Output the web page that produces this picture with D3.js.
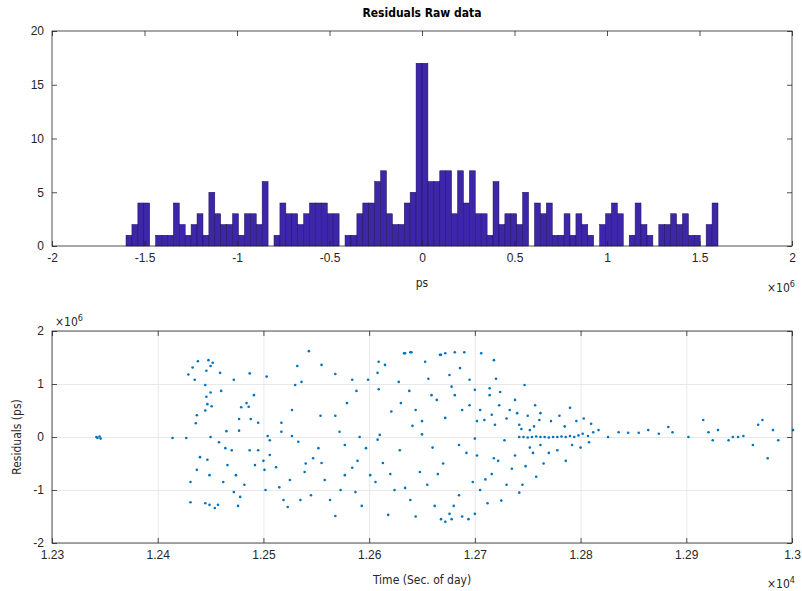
<!DOCTYPE html>
<html>
<head>
<meta charset="utf-8">
<script src="https://cdn.jsdelivr.net/npm/d3@7"></script>
<style>
  body { margin: 0; background: #fff; }
  svg { font-family: "Liberation Sans Narrow", "DejaVu Sans Condensed", "Liberation Sans", sans-serif; }
</style>
</head>
<body>
<svg id="chart" width="802" height="591"></svg>
<script>
// histogram of residuals: 100 bins between binMin and binMax (ps)
const binMin = -1.6e6;
const binMax = 1.6e6;
const histCounts = [
  1, 2, 4, 4, 0, 1, 1, 1, 4, 2,
  1, 2, 3, 1, 5, 3, 2, 2, 3, 1,
  3, 3, 2, 6, 0, 1, 4, 3, 3, 2,
  3, 4, 4, 4, 3, 3, 0, 1, 1, 3,
  4, 4, 6, 7, 3, 2, 2, 4, 5, 17,
  17, 6, 6, 7, 7, 3, 7, 4, 7, 3,
  3, 1, 6, 2, 3, 3, 2, 5, 0, 4,
  3, 4, 1, 1, 3, 1, 3, 2, 1, 0,
  2, 3, 4, 3, 0, 1, 4, 2, 1, 0,
  2, 2, 3, 2, 3, 1, 1, 0, 2, 4
];
const histXTicks = [-2e6, -1.5e6, -1e6, -0.5e6, 0, 0.5e6, 1e6, 1.5e6, 2e6];
const histYTicks = [0, 5, 10, 15, 20];

// residuals vs time of day: [seconds of day, residual in ps]
const residPoints = [
  [12342, 0.0e6], [12343, -0.02e6], [12345, 0.01e6], [12346, -0.03e6],
  [12414, -0.02e6], [12427, -0.02e6],
  [12429, 1.18e6], [12433, 1.31e6], [12438, 1.43e6], [12435, 1.08e6], [12448, 1.45e6],
  [12452, 1.40e6], [12450, 1.34e6], [12446, 1.25e6], [12459, 1.21e6], [12445, 0.98e6],
  [12450, 0.84e6], [12446, 0.76e6], [12447, 0.62e6], [12451, 0.58e6], [12445, 0.50e6],
  [12460, 0.87e6], [12437, 0.41e6], [12436, 0.26e6], [12450, 0.0e6], [12465, 0.11e6],
  [12472, 1.08e6], [12477, 0.12e6], [12477, 0.34e6], [12479, 0.56e6], [12484, 0.64e6],
  [12486, 0.57e6], [12487, 1.2e6], [12491, 0.79e6], [12488, 0.34e6], [12495, 0.27e6],
  [12503, 1.14e6], [12504, 0.02e6], [12517, 0.27e6], [12517, 0.10e6], [12527, 0.02e6],
  [12527, 0.51e6], [12530, 0.98e6], [12536, 1.04e6], [12532, 1.34e6], [12543, 1.62e6],
  [12555, 1.36e6], [12554, 0.40e6], [12568, 0.40e6], [12568, 1.19e6], [12572, 0.1e6],
  [12579, 0.64e6], [12584, 1.08e6], [12588, 0.87e6], [12591, 0.0e6], [12599, 1.08e6],
  [12608, 1.21e6], [12609, 1.42e6], [12609, 0.9e6], [12610, 0.04e6], [12615, 1.36e6],
  [12621, 0.48e6], [12628, 1.04e6], [12630, 0.64e6], [12633, 1.58e6], [12640, 1.6e6],
  [12638, 0.87e6], [12644, 0.51e6], [12641, 0.21e6],
  [12431, -0.85e6], [12431, -1.23e6], [12437, -0.62e6], [12445, -1.25e6], [12449, -1.28e6],
  [12454, -1.34e6], [12440, -0.38e6], [12447, -0.43e6], [12449, -0.72e6], [12457, -1.28e6],
  [12462, -0.85e6], [12464, -0.21e6], [12466, -0.53e6], [12470, -0.25e6], [12472, -1.04e6],
  [12474, -0.72e6], [12478, -1.13e6], [12487, -0.25e6], [12492, -0.53e6], [12495, -0.25e6],
  [12501, -0.62e6], [12502, -1.0e6], [12506, -0.06e6], [12506, -0.34e6], [12512, -0.57e6],
  [12519, -1.19e6], [12523, -1.32e6], [12525, -0.81e6], [12533, -0.09e6], [12535, -1.19e6],
  [12539, -0.66e6], [12547, -0.40e6], [12552, -0.21e6], [12555, -0.49e6], [12558, -0.81e6],
  [12563, -1.19e6], [12568, -1.49e6], [12577, -0.72e6], [12584, -0.58e6], [12587, -1.04e6],
  [12589, -0.45e6], [12597, -0.21e6], [12601, -0.72e6], [12606, -0.85e6], [12613, -0.49e6],
  [12618, -1.47e6], [12624, -1.0e6], [12629, -0.25e6], [12634, -0.96e6], [12639, -1.19e6],
  [12648, -0.66e6],
  [12476, -1.3e6], [12482, -0.9e6], [12515, -0.95e6], [12545, -1.1e6], [12573, -1.0e6],
  [12593, -1.3e6], [12620, -0.7e6], [12644, -1.5e6], [12608, -0.05e6], [12577, -0.15e6],
  [12540, -0.5e6], [12500, -0.45e6], [12458, -0.1e6],
  [12653, 1.42e6], [12659, 0.79e6], [12667, 1.55e6], [12672, 0.36e6], [12676, 1.17e6],
  [12681, 0.79e6], [12688, 0.51e6], [12695, 1.08e6], [12700, 0.89e6], [12705, 0.51e6],
  [12709, 0.32e6], [12714, 0.79e6], [12719, 0.23e6], [12723, 0.60e6], [12728, -0.06e6],
  [12733, 0.51e6], [12738, 0.70e6], [12742, 0.23e6], [12747, 0.98e6], [12752, 0.13e6],
  [12757, 0.60e6], [12761, 0.32e6], [12634, 1.58e6], [12639, 1.6e6], [12681, 1.6e6],
  [12668, 1.55e6], [12672, 1.58e6], [12690, 1.6e6], [12706, 1.58e6], [12718, 1.45e6],
  [12714, 0.92e6], [12720, 1.1e6], [12724, 0.85e6], [12716, 0.42e6], [12702, 0.3e6],
  [12695, 0.6e6], [12686, 1.3e6], [12678, 0.95e6], [12664, 0.7e6], [12656, 1.1e6],
  [12650, 0.3e6], [12730, 0.35e6], [12740, 0.45e6], [12744, 0.15e6], [12750, 0.4e6],
  [12756, 0.2e6], [12762, 0.45e6], [12772, 0.3e6], [12780, 0.4e6], [12785, 0.2e6],
  [12790, 0.55e6], [12796, 0.3e6], [12803, 0.35e6], [12810, 0.25e6],
  [12655, -0.9e6], [12662, -1.3e6], [12670, -0.5e6], [12678, -1.55e6], [12685, -1.1e6],
  [12692, -0.3e6], [12700, -1.45e6], [12710, -0.8e6], [12718, -0.4e6], [12725, -1.2e6],
  [12735, -0.6e6], [12745, -0.9e6], [12755, -0.3e6], [12765, -0.5e6],
  [12668, -1.55e6], [12672, -1.6e6], [12676, -1.45e6], [12680, -1.3e6], [12688, -1.5e6],
  [12694, -1.55e6], [12698, -0.85e6], [12705, -1.0e6], [12712, -1.25e6], [12716, -0.7e6],
  [12722, -0.45e6], [12730, -0.9e6], [12738, -0.35e6], [12742, -1.05e6], [12748, -0.55e6],
  [12752, -0.2e6], [12758, -0.75e6], [12762, -0.15e6], [12770, -0.3e6], [12778, -0.25e6],
  [12786, -0.45e6], [12792, -0.15e6], [12800, -0.2e6], [12808, -0.1e6], [12660, -0.2e6],
  [12665, -0.7e6], [12685, -0.15e6], [12702, -0.35e6],
  [12650, 0.05e6], [12700, -0.03e6],
  [12742, 0.0e6], [12746, 0.0e6], [12750, -0.01e6], [12754, 0.0e6], [12758, 0.01e6],
  [12762, 0.0e6], [12766, 0.0e6], [12770, -0.01e6], [12774, 0.0e6], [12778, 0.0e6],
  [12782, 0.01e6], [12786, 0.0e6], [12790, 0.02e6], [12794, 0.0e6], [12798, 0.03e6],
  [12802, 0.06e6], [12807, 0.02e6], [12812, 0.09e6], [12817, 0.13e6],
  [12826, 0.0e6], [12836, 0.09e6], [12845, 0.08e6], [12855, 0.08e6], [12864, 0.13e6],
  [12874, 0.06e6], [12883, 0.19e6], [12887, 0.09e6], [12902, 0.0e6], [12916, 0.32e6],
  [12921, 0.09e6], [12925, -0.06e6], [12930, 0.13e6], [12940, -0.06e6], [12944, 0.0e6],
  [12949, 0.0e6], [12954, 0.02e6], [12963, -0.15e6], [12968, 0.23e6], [12972, 0.32e6],
  [12982, 0.13e6], [12987, -0.06e6], [13001, 0.13e6], [13015, 0.23e6], [12977, -0.40e6]
];
const timeTicks = [12300, 12400, 12500, 12600, 12700, 12800, 12900, 13000];
const residTicks = [-2e6, -1e6, 0, 1e6, 2e6];

const svg = d3.select('#chart');
const axisColor = '#262626';

function drawBox(g, x0, x1, y0, y1) {
  g.append('rect')
    .attr('x', x0).attr('y', y0)
    .attr('width', x1 - x0).attr('height', y1 - y0)
    .attr('fill', 'none')
    .attr('stroke', axisColor)
    .attr('stroke-width', 0.8);
}

function styleAxis(sel) {
  sel.select('.domain').remove();
  sel.selectAll('line').attr('stroke', axisColor).attr('stroke-width', 0.8);
  sel.selectAll('text').attr('fill', axisColor).style('font-size', '12px');
}

// ---------- histogram ----------
const hx = d3.scaleLinear().domain([-2e6, 2e6]).range([52, 792]);
const hy = d3.scaleLinear().domain([0, 20]).range([246, 31]);
const binW = (binMax - binMin) / histCounts.length;
const hg = svg.append('g');

hg.selectAll('rect.bar')
  .data(histCounts)
  .enter()
  .append('rect')
  .attr('class', 'bar')
  .attr('x', (d, i) => hx(binMin + i * binW))
  .attr('width', hx(binMin + binW) - hx(binMin))
  .attr('y', d => hy(d))
  .attr('height', d => hy(0) - hy(d))
  .attr('fill', '#3e26a8')
  .attr('stroke', '#1b1258')
  .attr('stroke-width', 0.5);

const fmt = s => v => String(+(v / s).toFixed(2));

hg.append('g')
  .attr('transform', 'translate(0,246)')
  .call(d3.axisBottom(hx).tickValues(histXTicks).tickFormat(fmt(1e6)).tickSize(-5).tickPadding(7))
  .call(styleAxis);
hg.append('g')
  .attr('transform', 'translate(0,31)')
  .call(d3.axisTop(hx).tickValues(histXTicks).tickFormat('').tickSize(-5))
  .call(styleAxis);
hg.append('g')
  .attr('transform', 'translate(52,0)')
  .call(d3.axisLeft(hy).tickValues(histYTicks).tickSize(-5).tickPadding(8))
  .call(styleAxis);
hg.append('g')
  .attr('transform', 'translate(792,0)')
  .call(d3.axisRight(hy).tickValues(histYTicks).tickFormat('').tickSize(-5))
  .call(styleAxis);
drawBox(hg, 52, 792, 31, 246);

hg.append('text')
  .attr('x', 422).attr('y', 17)
  .attr('text-anchor', 'middle')
  .style('font-size', '12px').style('font-weight', 'bold')
  .attr('fill', '#000')
  .text('Residuals Raw data');
hg.append('text')
  .attr('x', 422).attr('y', 287)
  .attr('text-anchor', 'middle')
  .style('font-size', '12px')
  .attr('fill', axisColor)
  .text('ps');

function exponentLabel(g, x, y, exp) {
  const t = g.append('text')
    .attr('x', x).attr('y', y)
    .attr('fill', axisColor)
    .style('font-size', '12px');
  t.append('tspan').text('\u00d710');
  t.append('tspan').attr('dy', -5).style('font-size', '9px').text(exp);
}
exponentLabel(hg, 767, 292, '6');

// ---------- scatter ----------
const sx = d3.scaleLinear().domain([12300, 13000]).range([52, 792]);
const sy = d3.scaleLinear().domain([-2e6, 2e6]).range([543, 331]);
const sg = svg.append('g');

// grid
sg.append('g')
  .attr('transform', 'translate(0,543)')
  .call(d3.axisBottom(sx).tickValues(timeTicks).tickFormat('').tickSize(-(543 - 331)))
  .call(g => { g.select('.domain').remove(); g.selectAll('line').attr('stroke', '#e3e3e3').attr('stroke-width', 0.8); });
sg.append('g')
  .attr('transform', 'translate(52,0)')
  .call(d3.axisLeft(sy).tickValues(residTicks).tickFormat('').tickSize(-(792 - 52)))
  .call(g => { g.select('.domain').remove(); g.selectAll('line').attr('stroke', '#e3e3e3').attr('stroke-width', 0.8); });

sg.selectAll('circle')
  .data(residPoints)
  .enter()
  .append('circle')
  .attr('cx', d => sx(d[0]))
  .attr('cy', d => sy(d[1]))
  .attr('r', 1.3)
  .attr('fill', '#0072bd');

sg.append('g')
  .attr('transform', 'translate(0,543)')
  .call(d3.axisBottom(sx).tickValues(timeTicks).tickFormat(fmt(1e4)).tickSize(-5).tickPadding(7))
  .call(styleAxis);
sg.append('g')
  .attr('transform', 'translate(0,331)')
  .call(d3.axisTop(sx).tickValues(timeTicks).tickFormat('').tickSize(-5))
  .call(styleAxis);
sg.append('g')
  .attr('transform', 'translate(52,0)')
  .call(d3.axisLeft(sy).tickValues(residTicks).tickFormat(fmt(1e6)).tickSize(-5).tickPadding(8))
  .call(styleAxis);
sg.append('g')
  .attr('transform', 'translate(792,0)')
  .call(d3.axisRight(sy).tickValues(residTicks).tickFormat('').tickSize(-5))
  .call(styleAxis);
drawBox(sg, 52, 792, 331, 543);

exponentLabel(sg, 55, 326, '6');
exponentLabel(sg, 767, 588, '4');

sg.append('text')
  .attr('transform', 'translate(21,437) rotate(-90)')
  .attr('text-anchor', 'middle')
  .style('font-size', '12px')
  .attr('fill', axisColor)
  .text('Residuals (ps)');
sg.append('text')
  .attr('x', 422).attr('y', 584)
  .attr('text-anchor', 'middle')
  .style('font-size', '12px')
  .attr('fill', axisColor)
  .text('Time (Sec. of day)');
</script>
</body>
</html>
